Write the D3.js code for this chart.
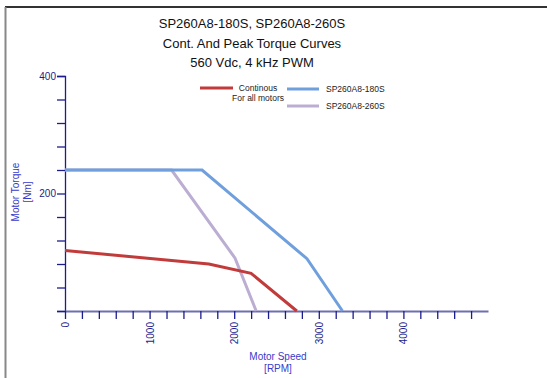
<!DOCTYPE html>
<html>
<head>
<meta charset="utf-8">
<script src="https://cdn.jsdelivr.net/npm/d3@7"></script>
<style>
  body { margin: 0; background: #fff; }
  svg { font-family: Arial, "Liberation Sans", sans-serif; }
</style>
</head>
<body>
<div id="chart"></div>
<script>
'use strict';

// Data (rpm, Nm)
const titleLines = ["SP260A8-180S, SP260A8-260S", "Cont. And Peak Torque Curves", "560 Vdc, 4 kHz PWM"];
const contSpeed = [0, 1700, 2200, 2740];
const contTorque = [103, 80, 64, 0];
const s180Speed = [0, 1620, 2860, 3280];
const s180Torque = [240, 240, 89, 0];
const s260Speed = [0, 1260, 2010, 2260];
const s260Torque = [240, 240, 90, 0];
const xTickLabels = [0, 1000, 2000, 3000, 4000];
const yTickLabels = [200, 400];

const W = 547, H = 378;
const margin = {top: 76, left: 65, right: 59, bottom: 67};
const w = W - margin.left - margin.right;
const h = H - margin.top - margin.bottom;

const svg = d3.select("#chart").append("svg")
  .attr("width", W)
  .attr("height", H);

// outer frame
svg.append("line").attr("x1", 5).attr("x2", W).attr("y1", 7).attr("y2", 7)
  .attr("stroke", "#333").attr("stroke-width", 2);
svg.append("line").attr("x1", 5.5).attr("x2", 5.5).attr("y1", 7).attr("y2", H)
  .attr("stroke", "#888").attr("stroke-width", 2);

// title
svg.append("text")
  .attr("text-anchor", "middle")
  .style("font-size", "13px")
  .attr("fill", "#111")
  .selectAll("tspan")
  .data(titleLines)
  .enter().append("tspan")
  .attr("x", 252)
  .attr("y", (d, i) => 28 + i * 19.5)
  .text(d => d);

const g = svg.append("g").attr("transform", `translate(${margin.left},${margin.top})`);

const x = d3.scaleLinear().domain([0, 5000]).range([0, w]);
const y = d3.scaleLinear().domain([0, 400]).range([h, 0]);

const axisColor = "#1c1c8c";

// y axis
const yAxis = d3.axisLeft(y).tickValues(d3.range(0, 401, 40)).tickSize(8)
  .tickFormat(d => yTickLabels.includes(d) ? d : "");
const yg = g.append("g").call(yAxis);
yg.select(".domain").attr("stroke", axisColor).attr("stroke-width", 1.3);
yg.selectAll(".tick line").attr("stroke", axisColor).attr("stroke-width", 1.3);
yg.selectAll(".tick text").attr("fill", axisColor).style("font-size", "10px").attr("x", -9);

// x axis
const xAxis = d3.axisBottom(x).tickValues(d3.range(0, 4801, 200)).tickSize(8).tickSizeOuter(0)
  .tickFormat(d => xTickLabels.includes(d) ? d : "");
const xg = g.append("g").attr("transform", `translate(0,${h})`).call(xAxis);
xg.select(".domain").attr("stroke", "#6e6eb4").attr("stroke-width", 2);
xg.selectAll(".tick line").attr("stroke", axisColor).attr("stroke-width", 1.3);
xg.selectAll(".tick text")
  .attr("fill", axisColor)
  .style("font-size", "10px")
  .attr("transform", "rotate(-90)")
  .attr("text-anchor", "end")
  .attr("dy", "0.35em")
  .attr("x", -11)
  .attr("y", 0);

// axis titles
const labelColor = "#3a3acc";
svg.append("text")
  .attr("transform", "translate(19,192) rotate(-90)")
  .attr("text-anchor", "middle")
  .attr("fill", labelColor)
  .style("font-size", "10px")
  .selectAll("tspan").data(["Motor Torque", "[Nm]"]).enter().append("tspan")
  .attr("x", 0).attr("y", (d, i) => i * 12).text(d => d);
svg.append("text")
  .attr("text-anchor", "middle")
  .attr("fill", labelColor)
  .style("font-size", "10px")
  .selectAll("tspan").data(["Motor Speed", "[RPM]"]).enter().append("tspan")
  .attr("x", 278).attr("y", (d, i) => 360 + i * 12).text(d => d);

// series
const series = [
  {speed: s260Speed, torque: s260Torque, color: "#bcaed2"},
  {speed: s180Speed, torque: s180Torque, color: "#6f9fdc"},
  {speed: contSpeed, torque: contTorque, color: "#c23b3b"}
];
const line = d3.line().x(d => x(d[0])).y(d => y(d[1]));
g.selectAll("path.series")
  .data(series)
  .enter().append("path")
  .attr("class", "series")
  .attr("fill", "none")
  .attr("stroke", d => d.color)
  .attr("stroke-width", 3)
  .attr("d", d => line(d.speed.map((s, i) => [s, d.torque[i]])));

// legend
const legend = svg.append("g").style("font-size", "8.5px").attr("fill", "#222");
legend.append("line").attr("x1", 200).attr("x2", 233).attr("y1", 88).attr("y2", 88)
  .attr("stroke", "#c23b3b").attr("stroke-width", 3);
legend.append("text").attr("x", 258).attr("y", 91).attr("text-anchor", "middle").text("Continous");
legend.append("text").attr("x", 258).attr("y", 101).attr("text-anchor", "middle").text("For all motors");
legend.append("line").attr("x1", 287).attr("x2", 319).attr("y1", 89).attr("y2", 89)
  .attr("stroke", "#6f9fdc").attr("stroke-width", 3);
legend.append("text").attr("x", 326).attr("y", 92).text("SP260A8-180S");
legend.append("line").attr("x1", 287).attr("x2", 319).attr("y1", 106).attr("y2", 106)
  .attr("stroke", "#bcaed2").attr("stroke-width", 3);
legend.append("text").attr("x", 326).attr("y", 109).text("SP260A8-260S");
</script>
</body>
</html>
